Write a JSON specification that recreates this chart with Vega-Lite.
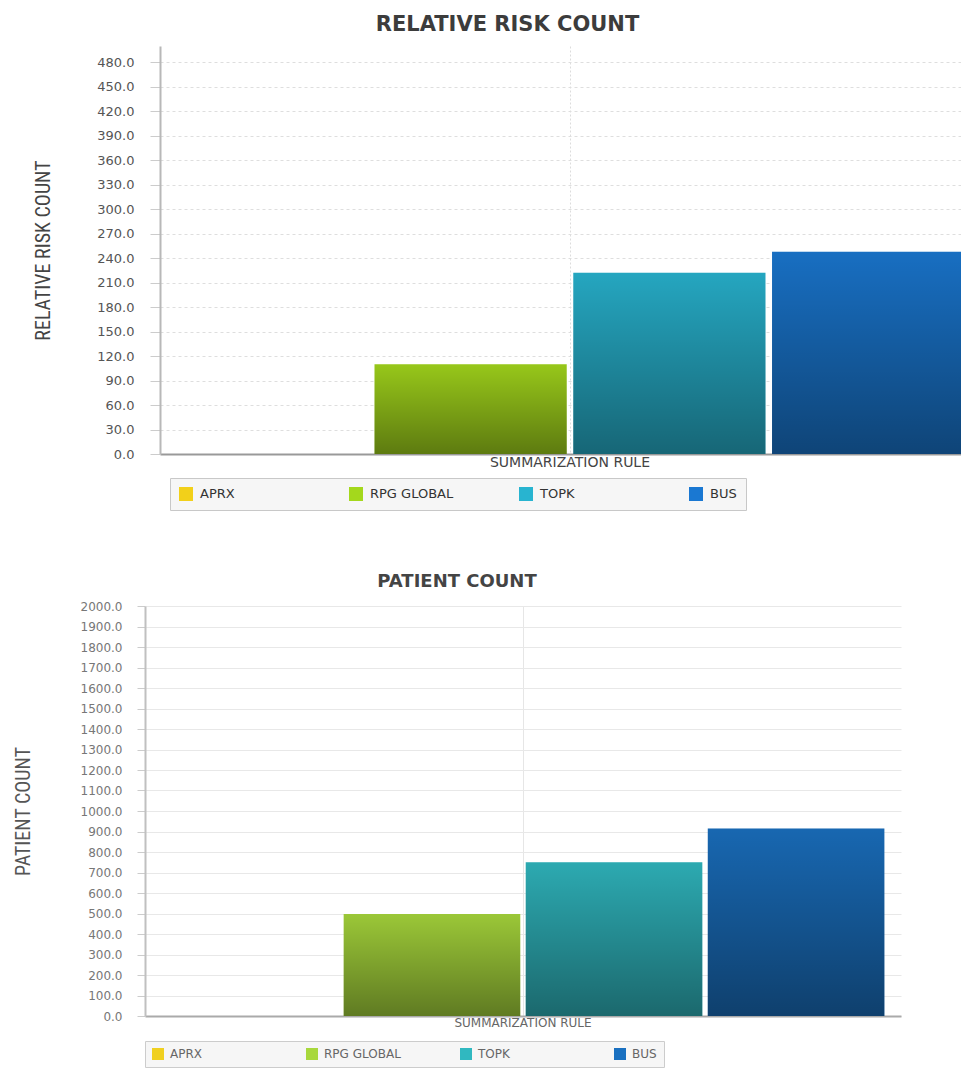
{
  "$schema": "https://vega.github.io/schema/vega-lite/v6.json",
  "background": "white",
  "padding": {"left": 5, "top": 14, "right": 0, "bottom": 0},
  "datasets": {
    "risk": [
      {"rule": "SUMMARIZATION RULE", "series": "APRX", "value": 0},
      {"rule": "SUMMARIZATION RULE", "series": "RPG GLOBAL", "value": 110},
      {"rule": "SUMMARIZATION RULE", "series": "TOPK", "value": 222},
      {"rule": "SUMMARIZATION RULE", "series": "BUS", "value": 248}
    ],
    "patient": [
      {"rule": "SUMMARIZATION RULE", "series": "APRX", "value": 0},
      {"rule": "SUMMARIZATION RULE", "series": "RPG GLOBAL", "value": 497},
      {"rule": "SUMMARIZATION RULE", "series": "TOPK", "value": 750},
      {"rule": "SUMMARIZATION RULE", "series": "BUS", "value": 915}
    ]
  },
  "columns": 1,
  "spacing": 62,
  "resolve": {
    "scale": {"x": "independent", "y": "independent", "xOffset": "independent", "color": "independent"},
    "legend": {"color": "independent"}
  },
  "concat": [
    {
      "title": {"text": "RELATIVE RISK COUNT", "font": "DejaVu Sans", "fontSize": 21, "fontWeight": "bold", "color": "#3c3c3c", "anchor": "middle", "dx": -55, "offset": 11},
      "width": 835,
      "height": 408,
      "data": {"name": "risk"},
      "encoding": {
        "x": {"field": "rule", "type": "nominal", "scale": {"paddingInner": 0, "paddingOuter": 0.02, "rangeMin": 15},
          "axis": {"title": " ", "titleX": -140, "titleY": -200, "titleAlign": "left", "titleBaseline": "middle", "titleFontSize": 4,
            "labelAngle": 0, "labelFont": "DejaVu Sans", "labelFontSize": 14, "labelColor": "#444", "labelPadding": 1,
            "ticks": false, "tickSize": 0, "domainColor": "#999", "domainWidth": 2,
            "grid": true, "gridColor": "#dcdcdc", "gridDash": [2, 2], "bandPosition": 0.5}},
        "xOffset": {"field": "series", "type": "nominal", "sort": ["APRX", "RPG GLOBAL", "TOPK", "BUS"], "scale": {"paddingInner": 0.033, "paddingOuter": 0}},
        "y": {"field": "value", "type": "quantitative", "scale": {"domain": [0, 500], "nice": false},
          "axis": {"title": "RELATIVE RISK COUNT", "offset": -15, "values": [0, 30, 60, 90, 120, 150, 180, 210, 240, 270, 300, 330, 360, 390, 420, 450, 480], "format": ".1f",
            "labelFont": "DejaVu Sans", "labelFontSize": 13, "labelColor": "#555", "labelPadding": 16,
            "tickSize": 10, "tickColor": "#cccccc", "domainColor": "#b8b8b8", "domainWidth": 2,
            "grid": true, "gridColor": "#dedede", "gridDash": [3, 3],
            "titleFont": "Liberation Sans Narrow, Arial Narrow, Roboto Condensed, sans-serif", "titleFontSize": 20, "titleFontWeight": "normal", "titleColor": "#444",
            "titleX": -111, "titleY": 204, "titleAngle": 270, "titleBaseline": "alphabetic", "titleAlign": "center"}}
      },
      "layer": [
        {
          "mark": {"type": "bar"},
          "encoding": {
            "color": {"field": "series", "type": "nominal",
              "scale": {"domain": ["APRX", "RPG GLOBAL", "TOPK", "BUS"], "range": ["#f2d01a", "#a4d81c", "#28b4d0", "#1a78d2"]},
              "legend": {"title": null, "orient": "none", "legendX": 25, "legendY": 432, "direction": "horizontal", "columns": 4, "gridAlign": "all",
                "columnPadding": 65, "symbolType": "square", "symbolSize": 196, "symbolStrokeWidth": 0,
                "labelFont": "DejaVu Sans", "labelFontSize": 13, "labelColor": "#333", "labelOffset": 7, "labelLimit": 0,
                "padding": 9, "strokeColor": "#c8c8c8", "fillColor": "#f6f6f6"}}
          }
        },
        {
          "mark": {"type": "bar", "color": {"gradient": "linear", "x1": 0, "y1": 0, "x2": 0, "y2": 1,
            "stops": [{"offset": 0, "color": "rgba(0,0,0,0.08)"}, {"offset": 1, "color": "rgba(0,0,0,0.43)"}]}}
        }
      ]
    },
    {
      "title": {"text": "PATIENT COUNT", "font": "DejaVu Sans", "fontSize": 18, "fontWeight": "bold", "color": "#444", "anchor": "middle", "dx": -66, "offset": 9},
      "width": 756,
      "height": 410,
      "data": {"name": "patient"},
      "encoding": {
        "x": {"field": "rule", "type": "nominal", "scale": {"paddingInner": 0, "paddingOuter": 0.023},
          "axis": {"title": null,
            "labelAngle": 0, "labelFont": "DejaVu Sans", "labelFontSize": 12, "labelColor": "#666", "labelPadding": 1,
            "ticks": false, "tickSize": 0, "domainColor": "#aaa", "domainWidth": 2,
            "grid": true, "gridColor": "#e6e6e6", "bandPosition": 0.5}},
        "xOffset": {"field": "series", "type": "nominal", "sort": ["APRX", "RPG GLOBAL", "TOPK", "BUS"], "scale": {"paddingInner": 0.03, "paddingOuter": 0}},
        "y": {"field": "value", "type": "quantitative", "scale": {"domain": [0, 2000], "nice": false},
          "axis": {"title": "PATIENT COUNT", "values": [0, 100, 200, 300, 400, 500, 600, 700, 800, 900, 1000, 1100, 1200, 1300, 1400, 1500, 1600, 1700, 1800, 1900, 2000], "format": ".1f",
            "labelFont": "DejaVu Sans", "labelFontSize": 12, "labelColor": "#777", "labelPadding": 15,
            "tickSize": 8, "tickColor": "#cccccc", "domainColor": "#c0c0c0", "domainWidth": 2,
            "grid": true, "gridColor": "#e8e8e8",
            "titleFont": "Liberation Sans Narrow, Arial Narrow, Roboto Condensed, sans-serif", "titleFontSize": 20, "titleFontWeight": "normal", "titleColor": "#555",
            "titleX": -116, "titleY": 205, "titleAngle": 270, "titleBaseline": "alphabetic", "titleAlign": "center"}}
      },
      "layer": [
        {
          "mark": {"type": "bar"},
          "encoding": {
            "color": {"field": "series", "type": "nominal",
              "scale": {"domain": ["APRX", "RPG GLOBAL", "TOPK", "BUS"], "range": ["#f0d020", "#a8d83c", "#30b8c0", "#1a70c0"]},
              "legend": {"title": null, "orient": "none", "legendX": 0, "legendY": 435, "direction": "horizontal", "columns": 4, "gridAlign": "all",
                "columnPadding": 59, "symbolType": "square", "symbolSize": 144, "symbolStrokeWidth": 0,
                "labelFont": "DejaVu Sans", "labelFontSize": 12, "labelColor": "#666", "labelOffset": 6, "labelLimit": 0,
                "padding": 7, "strokeColor": "#cccccc", "fillColor": "#f6f6f6"}}
          }
        },
        {
          "mark": {"type": "bar", "color": {"gradient": "linear", "x1": 0, "y1": 0, "x2": 0, "y2": 1,
            "stops": [{"offset": 0, "color": "rgba(0,0,0,0.08)"}, {"offset": 1, "color": "rgba(0,0,0,0.43)"}]}}
        }
      ]
    }
  ],
  "config": {"view": {"stroke": null}}
}
